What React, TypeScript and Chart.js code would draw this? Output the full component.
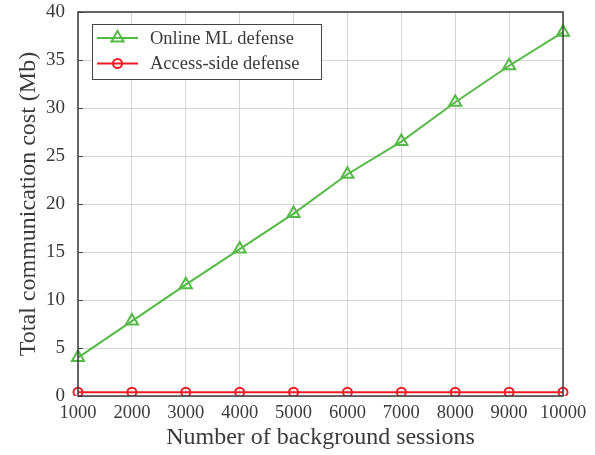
import React, { useEffect, useRef } from "react";
import { Chart, registerables } from "chart.js";

Chart.register(...registerables);

const sessions = [1000, 2000, 3000, 4000, 5000, 6000, 7000, 8000, 9000, 10000];
const onlineML = [4.0, 7.8, 11.6, 15.3, 19.0, 23.1, 26.5, 30.6, 34.4, 37.9];
const accessSide = [0.4, 0.4, 0.4, 0.4, 0.4, 0.4, 0.4, 0.4, 0.4, 0.4];
const seriesNames = ["Online ML defense", "Access-side defense"];
const xTitle = "Number of background sessions";
const yTitle = "Total communication cost (Mb)";

const GREEN = "#55b946";
const RED = "#ee1c25";
const TEXT = "#3a3a3a";
const FONT = "'Liberation Serif', 'Times New Roman', serif";

const framePlugin = {
  id: "frame",
  afterDatasetsDraw(chart: any) {
    const { ctx, chartArea: a, scales } = chart;
    ctx.save();
    ctx.strokeStyle = "#444";
    ctx.lineWidth = 1;
    const ys = scales.y;
    ys.ticks.forEach((t: any) => {
      const py = Math.round(ys.getPixelForValue(t.value)) + 0.5;
      ctx.beginPath();
      ctx.moveTo(a.left, py);
      ctx.lineTo(a.left + 5, py);
      ctx.stroke();
    });
    ctx.strokeStyle = "#3a3a3a";
    ctx.lineWidth = 1.5;
    ctx.strokeRect(a.left, a.top, a.right - a.left, a.bottom - a.top);
    ctx.restore();
  },
  afterDraw(chart: any) {
    const { ctx } = chart;
    ctx.save();
    const bx = 92.5, by = 24.5, bw = 229, bh = 55;
    ctx.fillStyle = "#ffffff";
    ctx.fillRect(bx, by, bw, bh);
    ctx.strokeStyle = "#444";
    ctx.lineWidth = 1;
    ctx.strokeRect(bx, by, bw, bh);
    const rows = [by + 13.5, by + 39];
    chart.data.datasets.forEach((ds: any, i: number) => {
      const y = rows[i];
      ctx.strokeStyle = ds.borderColor;
      ctx.lineWidth = 2;
      ctx.beginPath();
      ctx.moveTo(97, y);
      ctx.lineTo(138, y);
      ctx.stroke();
      const cx = 117.5;
      ctx.beginPath();
      if (ds.pointStyle === "triangle") {
        const r = 7;
        ctx.moveTo(cx, y - r);
        ctx.lineTo(cx + r * 0.87, y + r * 0.5);
        ctx.lineTo(cx - r * 0.87, y + r * 0.5);
        ctx.closePath();
      } else {
        ctx.arc(cx, y, 4.5, 0, Math.PI * 2);
      }
      ctx.stroke();
      ctx.fillStyle = TEXT;
      ctx.font = `18.5px ${FONT}`;
      ctx.textBaseline = "middle";
      ctx.textAlign = "left";
      ctx.fillText(ds.label, 150, y + 1);
    });
    ctx.restore();
  },
};

export default function App() {
  const ref = useRef<HTMLCanvasElement>(null);
  useEffect(() => {
    const chart = new Chart(ref.current!, {
      type: "line",
      data: {
        labels: sessions.map(String),
        datasets: [
          {
            label: seriesNames[0],
            data: onlineML,
            borderColor: GREEN,
            backgroundColor: "rgba(0,0,0,0)",
            borderWidth: 2,
            pointStyle: "triangle",
            pointRadius: 7,
            pointBorderWidth: 2,
            pointBackgroundColor: "rgba(0,0,0,0)",
            pointBorderColor: GREEN,
          },
          {
            label: seriesNames[1],
            data: accessSide,
            borderColor: RED,
            backgroundColor: "rgba(0,0,0,0)",
            borderWidth: 2,
            pointStyle: "circle",
            pointRadius: 4.5,
            pointBorderWidth: 2,
            pointBackgroundColor: "rgba(0,0,0,0)",
            pointBorderColor: RED,
          },
        ],
      },
      options: {
        animation: false,
        responsive: false,
        layout: { padding: { left: 0, top: 12, right: 32, bottom: 0 } },
        plugins: { legend: { display: false }, tooltip: { enabled: false } },
        scales: {
          x: {
            type: "category",
            offset: false,
            grid: { color: "#d4d4d4", drawTicks: false, lineWidth: 1 },
            border: { display: false },
            ticks: { color: TEXT, font: { family: FONT, size: 18.5 }, padding: 6, maxRotation: 0, autoSkip: false },
            title: { display: true, text: xTitle, color: TEXT, font: { family: FONT, size: 24 }, padding: { top: 0, bottom: 2.5 } },
            afterFit(s: any) { s.height = 59; s.paddingLeft = 0; s.paddingRight = 0; },
          },
          y: {
            min: 0,
            max: 40,
            ticks: { stepSize: 5, color: TEXT, font: { family: FONT, size: 19 }, padding: 13 },
            grid: { color: "#d4d4d4", drawTicks: false, lineWidth: 1 },
            border: { display: false },
            title: { display: true, text: yTitle, color: TEXT, font: { family: FONT, size: 24 }, padding: { top: 14, bottom: 0 } },
            afterFit(s: any) { s.width = 78; s.paddingTop = 0; s.paddingBottom = 0; },
          },
        },
      },
      plugins: [framePlugin],
    });
    return () => chart.destroy();
  }, []);
  return (
    <div style={{ position: "fixed", left: 0, top: 0, width: 595, height: 455, background: "#fff" }}>
      <canvas ref={ref} width={595} height={455} style={{ width: 595, height: 455 }} />
    </div>
  );
}
